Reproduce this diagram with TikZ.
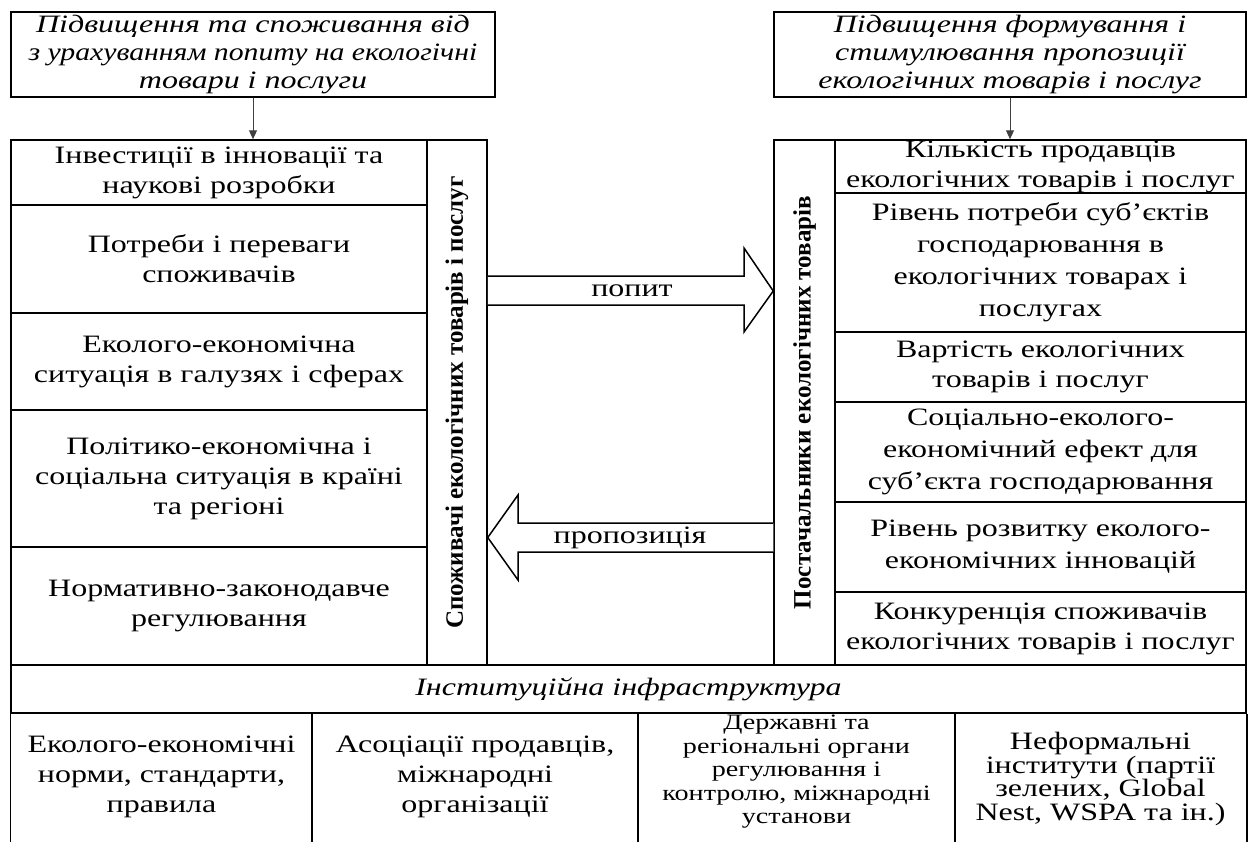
\documentclass[tikz,border=0pt]{standalone}
\usepackage{fontspec}
\setmainfont{Liberation Serif}[FakeStretch=1.28]
\newfontfamily\stripfont{Liberation Serif}
\usetikzlibrary{arrows.meta,calc}

\tikzset{
  frame/.style={draw, line width=1.5pt, inner sep=0pt, align=center},
  plain/.style={inner sep=0pt, align=center},
  lbody/.style={font=\fontsize{25}{30}\selectfont},
  rbody/.style={font=\fontsize{25}{32}\selectfont},
  head/.style={font=\itshape\fontsize{25}{28}\selectfont},
  vlabel/.style={inner sep=0pt, rotate=90, font=\stripfont\bfseries\fontsize{25}{30}\selectfont},
  feed/.style={draw=black!75, line width=1pt, -{Triangle[length=9pt,width=8pt]}},
  block/.style={draw, line width=1.5pt, fill=white, line join=miter},
  rule/.style={draw, line width=1.5pt}
}

\begin{document}
\begin{tikzpicture}[x=1pt,y=-1pt]
\useasboundingbox (0,0) rectangle (1248,841);
\clip (0,0) rectangle (1248,841);
\fill[white] (0,0) rectangle (1248,841);

% headline boxes
\node[frame, head, minimum width=484pt, minimum height=85pt] (tl) at (253,54.5)
  {Підвищення та споживання від\\\scalebox{0.93}[1]{з урахуванням попиту на екологічні}\\товари і послуги};
\node[frame, head, minimum width=472pt, minimum height=85pt] (tr) at (1010,54.5)
  {Підвищення формування і\\стимулювання пропозиції\\екологічних товарів і послуг};

% demand side: factors
\node[frame, lbody, minimum width=416pt, minimum height=65pt] (l1) at (219,172.5)
  {Інвестиції в інновації та\\наукові розробки};
\node[frame, lbody, minimum width=416pt, minimum height=108pt] (l2) at (219,259)
  {Потреби і переваги\\споживачів};
\node[frame, lbody, minimum width=416pt, minimum height=97pt] (l3) at (219,361.5)
  {Еколого-економічна\\ситуація в галузях і сферах};
\node[frame, lbody, minimum width=416pt, minimum height=137pt] (l4) at (219,478.5)
  {Політико-економічна і\\соціальна ситуація в країні\\та регіоні};
\node[frame, lbody, minimum width=416pt, minimum height=118pt] (l5) at (219,606)
  {Нормативно-законодавче\\регулювання};
\node[frame, minimum width=60pt, minimum height=525pt] (ls) at (457,402.5) {};
\node[vlabel] (lst) at (ls.center) {Споживачі екологічних товарів і послуг};

% supply side: factors
\node[frame, minimum width=61pt, minimum height=525pt] (rs) at (804.5,402.5) {};
\node[vlabel] (rst) at (rs.center) {Постачальники екологічних товарів};
\node[frame, lbody, minimum width=411pt, minimum height=53pt] (r1) at (1040.5,166.5)
  {Кількість продавців\\екологічних товарів і послуг};
\node[frame, rbody, minimum width=411pt, minimum height=139pt] (r2) at (1040.5,262.5)
  {Рівень потреби суб'єктів\\господарювання в\\екологічних товарах і\\послугах};
\node[frame, lbody, minimum width=411pt, minimum height=70pt] (r3) at (1040.5,367)
  {Вартість екологічних\\товарів і послуг};
\node[frame, rbody, minimum width=411pt, minimum height=100pt] (r4) at (1040.5,452)
  {Соціально-еколого-\\економічний ефект для\\суб'єкта господарювання};
\node[frame, rbody, minimum width=411pt, minimum height=90pt] (r5) at (1040.5,547)
  {Рівень розвитку еколого-\\економічних інновацій};
\node[frame, lbody, minimum width=411pt, minimum height=73pt] (r6) at (1040.5,628.5)
  {Конкуренція споживачів\\екологічних товарів і послуг};

% feeds from the headline boxes
\draw[feed] (tl.south) -- (tl.south |- l1.north);
\draw[feed] (tr.south) -- (tr.south |- r1.north);

% demand and supply block arrows
\draw[block] (ls.east |- 0,276) -- (744,276) -- (744,248) -- (rs.west |- 0,291)
  -- (744,332) -- (744,305) -- (ls.east |- 0,305);
\node[plain, lbody] (dem) at (632,291) {попит};
\draw[block] (rs.west |- 0,523) -- (518,523) -- (518,495) -- (ls.east |- 0,537.5)
  -- (518,580) -- (518,552) -- (rs.west |- 0,552);
\node[plain, lbody] (sup) at (630,538) {пропозиція};

% institutional infrastructure
\node[frame, head, minimum width=1235pt, minimum height=48pt] (inf) at (628.5,689)
  {Інституційна інфраструктура};
\node[plain, lbody, minimum width=301pt, minimum height=128pt] (b1) at (161.5,777)
  {Еколого-економічні\\норми, стандарти,\\правила};
\node[plain, lbody, minimum width=326pt, minimum height=128pt] (b2) at (475,777)
  {Асоціації продавців,\\міжнародні\\організації};
\node[plain, font=\fontsize{22}{23.5}\selectfont, minimum width=317pt, minimum height=118pt] (b3) at (796.5,772)
  {Державні та\\регіональні органи\\регулювання і\\контролю, міжнародні\\установи};
\node[plain, font=\fontsize{25}{23.5}\selectfont, minimum width=291pt, minimum height=128pt] (b4) at (1100.5,779)
  {Неформальні\\інститути (партії\\зелених, Global\\Nest, WSPA та ін.)};

% cell walls of the bottom row
\draw[rule] (inf.south west) -- (inf.south west |- 0,850);
\draw[rule] (b1.north east |- inf.south) -- (b1.north east |- 0,850);
\draw[rule] (b2.north east |- inf.south) -- (b2.north east |- 0,850);
\draw[rule] (b3.north east |- inf.south) -- (b3.north east |- 0,850);
\draw[rule] (inf.south east) -- (inf.south east |- 0,850);
\end{tikzpicture}
\end{document}
